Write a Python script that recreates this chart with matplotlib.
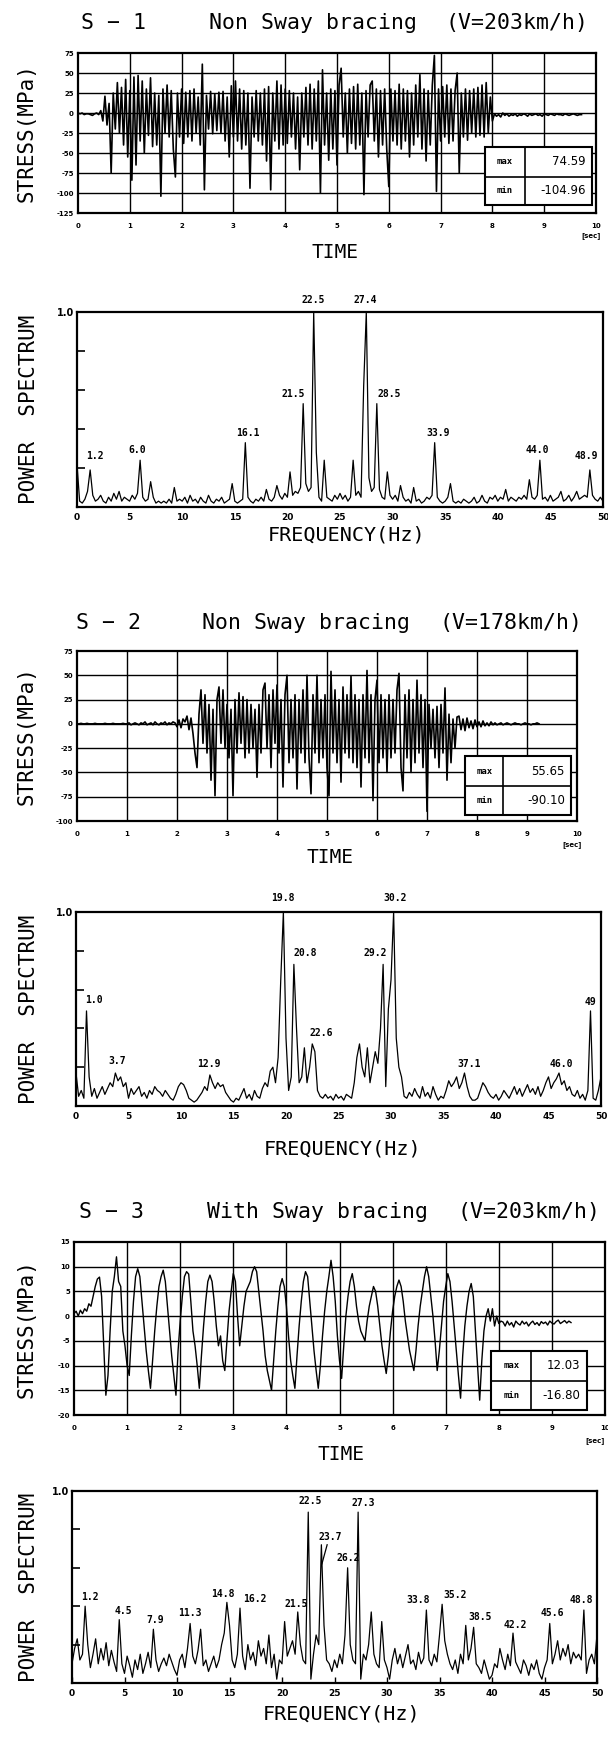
import numpy as np
import matplotlib
matplotlib.use("Agg")
import matplotlib.pyplot as plt
from matplotlib.patches import Rectangle
from matplotlib.lines import Line2D

# ---------------- DATA ----------------
# Stress records (MPa), sampled every TIME_STEP seconds from t = 0
TIME_STEP = 0.04

s1_stress = [
    # 0.00 - 0.40 quiet
    0, -1, 0, -2, -1, -1, -2, -3, -1, 0, -2,
    # 0.44 - 8.00 train passage
    3, -10, 21, -15, 12, -75, 25, -20, 38, -25,
    32, -40, 42, -55, 28, -84, 45, -65, 47, -35,
    40, -50, 30, -28, 44, -42, 25, -40, 22, -104,
    30, -25, 35, -30, 28, -45, -80, 25, -30, 30,
    -38, 26, -30, 28, -35, 30, -25, 20, -40, 61,
    -96, 22, -20, 27, -26, 24, -22, 26, -25, 27,
    -35, 20, -55, 34, -30, 40, -35, 30, -45, 28,
    -40, 25, -94, 20, -30, 28, -35, 25, -40, 30,
    -60, 33, -96, 25, -35, 40, -45, 35, -40, 30,
    -38, 28, -30, 25, -45, 20, -71, 25, -30, 32,
    -40, 36, -45, 30, -35, 40, -100, 54, -40, 25,
    -59, 30, -45, 28, -65, 35, 56, -30, 25, -50,
    30, -38, 33, -45, 36, -40, 25, -102, 28, -30,
    35, 40, -35, 30, -55, 28, -40, 30, -45, -92,
    30, -35, 28, -40, 36, -45, 30, -35, 28, -55,
    25, -40, 35, -30, 48, -45, 30, -60, 28, -40,
    35, 72, -98, 30, -35, 33, -30, 35, -38, 30,
    -35, 28, 50, -75, 25, -30, 30, -34, 28, -25,
    30, -30, 32, -28, 35, -30, 38, -25, 20, -10,
    # 8.04 - 9.72 free vibration / quiet
    -1, -4, -2, -5, 0, -3, -1, -4, -2, -3,
    -1, -4, -2, -3, -1, -2, -4, -1, -3, -2,
    -1, -3, -2, -4, -1, -2, -3, -1, -2, -3,
    -1, -2, -2, -3, -1, -2, -3, -2, -1, -2,
    -3, -2, -2,
]

s2_stress = [
    # 0.00 - 0.96
    0, 0, 0.5, 0, 0, 0.5, 0, 0, 0, 0.5, 0, 0, 0, 0, 0.5, 0, 0, 0, 0.5, 0,
    0, 0, 0, 0.5, 0,
    # 1.00 - 1.96
    0, 1, -1, 0, 1, 0, -1, 1, 0, 2, -1, 0, 1, -1, 2, 0, -1, 1, 0, 2,
    -1, 1, 0, 2, 1,
    # 2.00 - 2.28
    -3, 4, -4, 5, 2, 8, -6, 6,
    # 2.32 - 7.60 train passage
    -10, -30, -45, 10, 35, -20, 30, -30, 20, -58,
    15, -74, 25, 38, -20, 35, -25, 20, -35, 15,
    -74, 25, -30, 32, -20, 28, -35, 25, -30, 20,
    -25, 15, -55, 20, -30, 35, 42, -25, 30, -45,
    35, -20, 40, -30, 25, -65, 30, 50, -40, 25,
    -35, 30, -67, 25, -30, 35, -40, 50, -35, -72,
    30, -30, 50, -40, 25, -35, 30, -45, -74, 54,
    -30, 35, -40, 25, -60, 38, -30, 30, -35, 49,
    -40, 30, -45, 25, -65, 30, -35, 55, -40, 30,
    -79, 25, 45, -40, 30, -35, 25, -50, 30, -35,
    25, -30, 35, 52, -45, -69, 30, -35, 35, -50,
    25, -40, 45, -30, 30, -45, 25, -90, 20, -25,
    15, -35, 18, -45, 20, -30, 37, -58, 10, -40,
    5, -25, 7,
    # 7.64 - 9.24 decay
    8, -6, 5, -7, 6, -4, 3, -5, 4, -3, 2, -3, 3, -2, 1, -2, 2, -1, 1, -1,
    0, 1, -1, 0, 1, 0, -1, 0, 1, 0, 0, -1, 0, 1, 0, 0, -1, 0, 0, 1, 0,
]

s3_stress = [
    0.5, 1, 0, 1.2, 0.5, 1.5, 1, 2.5, 2, 4,
    6, 7.5, 7.9, 4, -6, -16, -12, -3, 5, 8,
    12, 7, 6, -3, -6, -10, -12, -4, 3, 8,
    9.6, 8, 3, -2, -7, -11, -14.6, -9, -3, 2,
    6, 8, 9.3, 7, 2, -3, -8, -12, -16, -7,
    -1, 4, 8, 9, 8.5, 3, -3, -6, -10, -14.6,
    -8, -2, 3, 7, 8.3, 7, 3, -2, -6, -4,
    -9, -11, -5, 1, 5, 8.6, 7, 0, -6, -2,
    2, 5, 6, 7, 9, 10, 9, 5, 1, -3,
    -8, -11, -13, -15, -9, -3, 2, 6, 7.6, 6,
    2, -4, -9, -12, -14.6, -8, -2, 3, 7, 9,
    8, 3, -2, -7, -11, -14.6, -10, -4, 1, 5,
    8, 11.3, 8, 3, -4, -9, -12.6, -6, 0, 4,
    7, 8.6, 6, 2, -1, -3, -4, -5, -1, 2,
    4, 6, 5, 2, -2, -6, -9, -11.6, -8, -3,
    1, 4, 6, 7.3, 6, 3, -1, -4, -7, -9,
    -11, -7, -2, 2, 5, 8, 10, 8, 4, 0,
    -5, -11, -7, -2, 3, 6, 8.6, 7, 3, -2,
    -7, -12, -16.6, -8, -2, 2, 5, 6.6, 4, -3,
    -10, -17, -9, -3, 0, 1.5, -1, 1.5, -2, 0,
    -1.5, -1,
    -1.2, -2, -1, -1.8, -1.3, -2.2, -1, -1.5, -1.8, -1,
    -1.6, -1.2, -2, -1.4, -1, -1.7, -1.3, -1.9, -1.1, -1.5,
    -1.2, -1.8, -1, -1.4, -1.6, -1.1, -0.8, -1.5, -1.2, -0.9,
    -1.4, -1.0, -1.3,
]

s1_yticks = [75, 50, 25, 0, -25, -50, -75, -100, -125]
s2_yticks = [75, 50, 25, 0, -25, -50, -75, -100]
s3_yticks = [15, 10, 5, 0, -5, -10, -15, -20]
time_ticks = [0, 1, 2, 3, 4, 5, 6, 7, 8, 9, 10]

s1_max, s1_min = "74.59", "-104.96"
s2_max, s2_min = "55.65", "-90.10"
s3_max, s3_min = "12.03", "-16.80"

# Normalised power spectra, sampled every FREQ_STEP Hz from 0 to 50 Hz
FREQ_STEP = 0.25
p1_power = [
    0.22, 0.03, 0.02, 0.04, 0.08, 0.19, 0.06, 0.03, 0.04, 0.06, 0.03, 0.02, 0.05, 0.03, 0.07, 0.04, 0.08, 0.03, 0.05, 0.04,
    0.03, 0.06, 0.04, 0.07, 0.24, 0.05, 0.03, 0.04, 0.13, 0.05, 0.02, 0.03, 0.02, 0.03, 0.02, 0.04, 0.02, 0.10, 0.03, 0.04,
    0.03, 0.05, 0.02, 0.06, 0.03, 0.04, 0.02, 0.05, 0.03, 0.02, 0.06, 0.03, 0.02, 0.04, 0.03, 0.05, 0.02, 0.03, 0.04, 0.12,
    0.03, 0.02, 0.03, 0.04, 0.33, 0.05, 0.03, 0.02, 0.04, 0.03, 0.05, 0.03, 0.09, 0.04, 0.03, 0.05, 0.11, 0.06, 0.04, 0.07,
    0.05, 0.18, 0.06, 0.08, 0.07, 0.10, 0.53, 0.12, 0.08, 0.10, 1.00, 0.28, 0.05, 0.03, 0.24, 0.05, 0.04, 0.03, 0.06, 0.04,
    0.07, 0.04, 0.06, 0.03, 0.05, 0.24, 0.06, 0.08, 0.05, 0.62, 1.00, 0.15, 0.08, 0.10, 0.53, 0.09, 0.05, 0.04, 0.18, 0.06,
    0.04, 0.06, 0.03, 0.11, 0.05, 0.03, 0.04, 0.02, 0.10, 0.03, 0.04, 0.02, 0.03, 0.05, 0.04, 0.06, 0.33, 0.05, 0.03, 0.02,
    0.03, 0.05, 0.12, 0.03, 0.02, 0.03, 0.02, 0.04, 0.03, 0.02, 0.03, 0.05, 0.02, 0.03, 0.06, 0.03, 0.02, 0.05, 0.04, 0.06,
    0.03, 0.05, 0.04, 0.09, 0.03, 0.05, 0.04, 0.03, 0.05, 0.04, 0.06, 0.04, 0.14, 0.05, 0.04, 0.06, 0.24, 0.04, 0.05, 0.03,
    0.06, 0.03, 0.04, 0.05, 0.08, 0.03, 0.04, 0.06, 0.03, 0.05, 0.08, 0.04, 0.05, 0.06, 0.05, 0.19, 0.06, 0.04, 0.03, 0.05,
    0.03,
]
p2_power = [
    0.17, 0.05, 0.08, 0.04, 0.49, 0.15, 0.05, 0.09, 0.04, 0.07, 0.10, 0.06, 0.09, 0.12, 0.10, 0.17, 0.13, 0.15, 0.10, 0.12,
    0.04, 0.09, 0.06, 0.08, 0.10, 0.05, 0.07, 0.04, 0.08, 0.06, 0.10, 0.08, 0.07, 0.05, 0.08, 0.06, 0.04, 0.03, 0.06, 0.10,
    0.12, 0.11, 0.08, 0.04, 0.03, 0.02, 0.03, 0.05, 0.07, 0.10, 0.08, 0.16, 0.12, 0.09, 0.12, 0.10, 0.11, 0.07, 0.05, 0.03,
    0.02, 0.04, 0.03, 0.06, 0.09, 0.04, 0.06, 0.03, 0.08, 0.05, 0.04, 0.09, 0.12, 0.10, 0.18, 0.20, 0.12, 0.25, 0.65, 1.00,
    0.35, 0.08, 0.15, 0.73, 0.40, 0.12, 0.15, 0.30, 0.12, 0.20, 0.32, 0.28, 0.08, 0.05, 0.04, 0.06, 0.04, 0.05, 0.03, 0.06,
    0.04, 0.05, 0.03, 0.06, 0.05, 0.04, 0.12, 0.25, 0.32, 0.20, 0.15, 0.30, 0.12, 0.20, 0.28, 0.22, 0.40, 0.73, 0.10, 0.50,
    0.65, 1.00, 0.35, 0.20, 0.15, 0.05, 0.04, 0.07, 0.05, 0.09, 0.06, 0.04, 0.10, 0.05, 0.07, 0.04, 0.10, 0.06, 0.03, 0.05,
    0.04, 0.08, 0.13, 0.10, 0.12, 0.15, 0.09, 0.12, 0.17, 0.10, 0.05, 0.03, 0.03, 0.04, 0.08, 0.12, 0.10, 0.07, 0.05, 0.04,
    0.06, 0.03, 0.05, 0.08, 0.06, 0.04, 0.07, 0.10, 0.06, 0.09, 0.05, 0.08, 0.11, 0.07, 0.09, 0.06, 0.10, 0.05, 0.08, 0.12,
    0.15, 0.09, 0.12, 0.14, 0.17, 0.11, 0.13, 0.08, 0.10, 0.06, 0.05, 0.08, 0.04, 0.06, 0.03, 0.08, 0.49, 0.04, 0.03, 0.08,
    0.15,
]
p3_power = [
    0.10, 0.18, 0.23, 0.12, 0.15, 0.40, 0.20, 0.08, 0.15, 0.23, 0.10, 0.18, 0.12, 0.21, 0.09, 0.17, 0.11, 0.06, 0.33, 0.10,
    0.05, 0.14, 0.09, 0.03, 0.12, 0.07, 0.15, 0.05, 0.10, 0.16, 0.08, 0.28, 0.12, 0.06, 0.10, 0.13, 0.09, 0.15, 0.11, 0.07,
    0.04, 0.12, 0.15, 0.08, 0.18, 0.31, 0.14, 0.10, 0.17, 0.28, 0.09, 0.12, 0.06, 0.10, 0.14, 0.08, 0.12, 0.20, 0.26, 0.42,
    0.30, 0.12, 0.08, 0.15, 0.39, 0.14, 0.07, 0.20, 0.12, 0.16, 0.09, 0.22, 0.14, 0.18, 0.10, 0.25, 0.08, 0.15, 0.02, 0.12,
    0.10, 0.32, 0.14, 0.18, 0.22, 0.15, 0.37, 0.20, 0.12, 0.10, 0.89, 0.02, 0.15, 0.25, 0.20, 0.72, 0.30, 0.12, 0.10, 0.06,
    0.12, 0.08, 0.15, 0.10, 0.25, 0.60, 0.20, 0.12, 0.10, 0.89, 0.02, 0.15, 0.12, 0.20, 0.37, 0.15, 0.10, 0.08, 0.32, 0.12,
    0.08, 0.02, 0.12, 0.18, 0.10, 0.15, 0.08, 0.14, 0.20, 0.10, 0.12, 0.07, 0.16, 0.10, 0.13, 0.38, 0.12, 0.09, 0.15, 0.11,
    0.25, 0.41, 0.22, 0.15, 0.10, 0.07, 0.12, 0.05, 0.15, 0.10, 0.30, 0.12, 0.18, 0.29, 0.10, 0.08, 0.05, 0.12, 0.07, 0.02,
    0.04, 0.10, 0.08, 0.18, 0.12, 0.07, 0.15, 0.09, 0.26, 0.11, 0.08, 0.05, 0.12, 0.09, 0.04, 0.10, 0.07, 0.12, 0.05, 0.02,
    0.08, 0.12, 0.31, 0.10, 0.15, 0.22, 0.12, 0.18, 0.14, 0.20, 0.10, 0.16, 0.13, 0.15, 0.12, 0.38, 0.05, 0.12, 0.15, 0.10,
    0.25,
]
freq_ticks = [0, 5, 10, 15, 20, 25, 30, 35, 40, 45, 50]

# Peak annotations: text of each labelled peak
p1_peaks = ["1.2", "6.0", "16.1", "21.5", "22.5", "27.4", "28.5", "33.9", "44.0", "48.9"]
p2_peaks = ["1.0", "3.7", "12.9", "19.8", "20.8", "22.6", "29.2", "30.2", "37.1", "46.0", "49"]
p3_peaks = ["1.2", "4.5", "7.9", "11.3", "14.8", "16.2", "21.5", "22.5", "23.7", "26.2",
            "27.3", "33.8", "35.2", "38.5", "42.2", "45.6", "48.8"]

# ---------------- LAYOUT ----------------
W, H = 608, 1738
# label anchor positions (data coords) for the peak annotations
p1_label_xy = [(1.7, 0.26), (5.7, 0.29), (16.2, 0.38), (20.6, 0.58), (22.5, 1.06),
               (27.4, 1.06), (29.7, 0.58), (34.3, 0.38), (43.8, 0.29), (48.4, 0.26)]
p2_label_xy = [(1.7, 0.545), (3.9, 0.23), (12.7, 0.215), (19.7, 1.07), (21.8, 0.79),
               (23.4, 0.376), (28.5, 0.79), (30.4, 1.07), (37.4, 0.215), (46.2, 0.215), (49.0, 0.536)]
p3_label_xy = [(1.7, 0.45), (4.9, 0.377), (7.9, 0.33), (11.25, 0.363), (14.4, 0.464),
               (17.45, 0.436), (21.4, 0.41), (22.7, 0.946), (24.6, 0.76), (26.3, 0.649),
               (27.75, 0.94), (33.0, 0.43), (36.5, 0.46), (38.9, 0.346), (42.25, 0.30),
               (45.75, 0.367), (48.5, 0.43)]

MONO = "DejaVu Sans Mono"
fig = plt.figure(figsize=(W / 100, H / 100), dpi=100)


def add_ax(x0, y0, x1, y1):
    return fig.add_axes([x0 / W, 1 - y1 / H, (x1 - x0) / W, (y1 - y0) / H])


def fig_text(x, y, s, **kw):
    fig.text(x / W, 1 - y / H, s, **kw)


def style_frame(ax, lw=1.6):
    for sp in ax.spines.values():
        sp.set_linewidth(lw)
        sp.set_color("black")


def time_panel(box, values, yticks, vmax, vmin, tbl, sec_right=False, lw=1.2):
    ax = add_ax(*box)
    t = np.arange(len(values)) * TIME_STEP
    ax.plot(t, values, color="black", lw=lw, zorder=3)
    ax.set_xlim(0, 10)
    ax.set_ylim(yticks[-1], yticks[0])
    for v in yticks[1:-1]:
        ax.axhline(v, color="black", lw=1.0, zorder=1)
    for s in time_ticks[1:-1]:
        ax.axvline(s, color="black", lw=1.0, zorder=1)
    ax.set_yticks(yticks)
    ax.set_yticklabels([str(v) for v in yticks], fontsize=5, fontweight="bold")
    ax.set_xticks(time_ticks)
    ax.set_xticklabels([str(v) for v in time_ticks], fontsize=5, fontweight="bold")
    ax.tick_params(axis="x", length=0, pad=7)
    ax.tick_params(axis="y", length=0, pad=3)
    style_frame(ax)
    if sec_right:
        ax.text(1.0, -0.125, "[sec]", transform=ax.transAxes, ha="right", va="top",
                fontsize=5, fontweight="bold")
    else:
        ax.text(0.99, -0.12, "[sec]", transform=ax.transAxes, ha="center", va="top",
                fontsize=5, fontweight="bold")
    x0, x1, xd, y0, y1, yd = tbl
    ax.add_patch(Rectangle((x0, y0), x1 - x0, y1 - y0, transform=ax.transAxes,
                           facecolor="white", edgecolor="black", lw=1.5, zorder=5))
    ax.add_line(Line2D([x0, x1], [yd, yd], transform=ax.transAxes, color="black", lw=1.2, zorder=6))
    ax.add_line(Line2D([xd, xd], [y0, y1], transform=ax.transAxes, color="black", lw=1.2, zorder=6))
    ax.text((x0 + xd) / 2, (yd + y1) / 2, "max", transform=ax.transAxes, ha="center", va="center",
            fontsize=6.5, fontweight="bold", family=MONO, zorder=7)
    ax.text((x0 + xd) / 2, (y0 + yd) / 2, "min", transform=ax.transAxes, ha="center", va="center",
            fontsize=6.5, fontweight="bold", family=MONO, zorder=7)
    ax.text(x1 - 0.012, (yd + y1) / 2, vmax, transform=ax.transAxes, ha="right", va="center",
            fontsize=8.5, family=["Liberation Sans Narrow", "DejaVu Sans"], zorder=7)
    ax.text(x1 - 0.012, (y0 + yd) / 2, vmin, transform=ax.transAxes, ha="right", va="center",
            fontsize=8.5, family=["Liberation Sans Narrow", "DejaVu Sans"], zorder=7)
    return ax


def spec_panel(box, power, peaks, label_xy, xticks_in=False):
    ax = add_ax(*box)
    f = np.arange(len(power)) * FREQ_STEP
    ax.plot(f, power, color="black", lw=0.9, zorder=3)
    ax.set_xlim(0, 50)
    ax.set_ylim(0, 1.0)
    ax.set_yticks([0.2, 0.4, 0.6, 0.8, 1.0])
    ax.set_yticklabels(["", "", "", "", "1.0"], fontsize=7, fontweight="bold")
    ax.tick_params(axis="y", direction="in", length=6, width=1.2, pad=2)
    ax.set_xticks(freq_ticks)
    ax.set_xticklabels([str(v) for v in freq_ticks], fontsize=6.5, fontweight="bold")
    ax.tick_params(axis="x", direction="in", length=4 if xticks_in else 0, width=1.0, pad=4)
    style_frame(ax)
    for txt, (lx, ly) in zip(peaks, label_xy):
        ax.text(lx, ly, txt, ha="center", va="center", fontsize=7, fontweight="bold",
                family=MONO, clip_on=False, zorder=6)
    return ax


# ---------------- FIGURE ----------------
TITLE_FS = 15.5
titles = [
    (23, [(81, "S − 1"), (209, "Non Sway bracing"), (446, "(V=203km/h)")]),
    (623, [(76, "S − 2"), (202, "Non Sway bracing"), (440, "(V=178km/h)")]),
    (1212, [(79, "S − 3"), (207, "With Sway bracing"), (457, "(V=203km/h)")]),
]
for y, parts in titles:
    for x, s in parts:
        fig_text(x, y, s, family=MONO, fontsize=TITLE_FS, ha="left", va="center")

t1 = time_panel((78, 53, 596, 213), s1_stress, s1_yticks, s1_max, s1_min,
                (0.785, 0.992, 0.863, 0.052, 0.412, 0.227))
t2 = time_panel((77, 651, 577, 821), s2_stress, s2_yticks, s2_max, s2_min,
                (0.776, 0.988, 0.853, 0.035, 0.380, 0.207))
t3 = time_panel((74, 1242, 605, 1415), s3_stress, s3_yticks, s3_max, s3_min,
                (0.786, 0.966, 0.861, 0.029, 0.371, 0.198), sec_right=True, lw=1.0)

p1 = spec_panel((77, 312, 603, 507), p1_power, p1_peaks, p1_label_xy)
p2 = spec_panel((76, 912, 601, 1106), p2_power, p2_peaks, p2_label_xy)
p3 = spec_panel((72, 1491, 597, 1683), p3_power, p3_peaks, p3_label_xy, xticks_in=True)
p3.add_line(Line2D([23.8, 24.3], [0.62, 0.72], color="black", lw=0.9, zorder=6))

for y, x in [(253, 335), (858, 330), (1455, 341)]:
    fig_text(x, y, "TIME", family=MONO, fontsize=14, ha="center", va="center")
for y, x in [(535, 347), (1149, 343), (1714, 342)]:
    fig_text(x, y, "FREQUENCY(Hz)", family=MONO, fontsize=14.5, ha="center", va="center")

for box in [(53, 213), (651, 821), (1242, 1415)]:
    fig_text(27, (box[0] + box[1]) / 2, "STRESS(MPa)", family=MONO, fontsize=15,
             rotation=90, ha="center", va="center")
for box in [(312, 507), (912, 1106), (1491, 1683)]:
    fig_text(29, (box[0] + box[1]) / 2, "POWER  SPECTRUM", family=MONO, fontsize=15,
             rotation=90, ha="center", va="center")

fig.savefig("out.png", dpi=100, facecolor="white")
